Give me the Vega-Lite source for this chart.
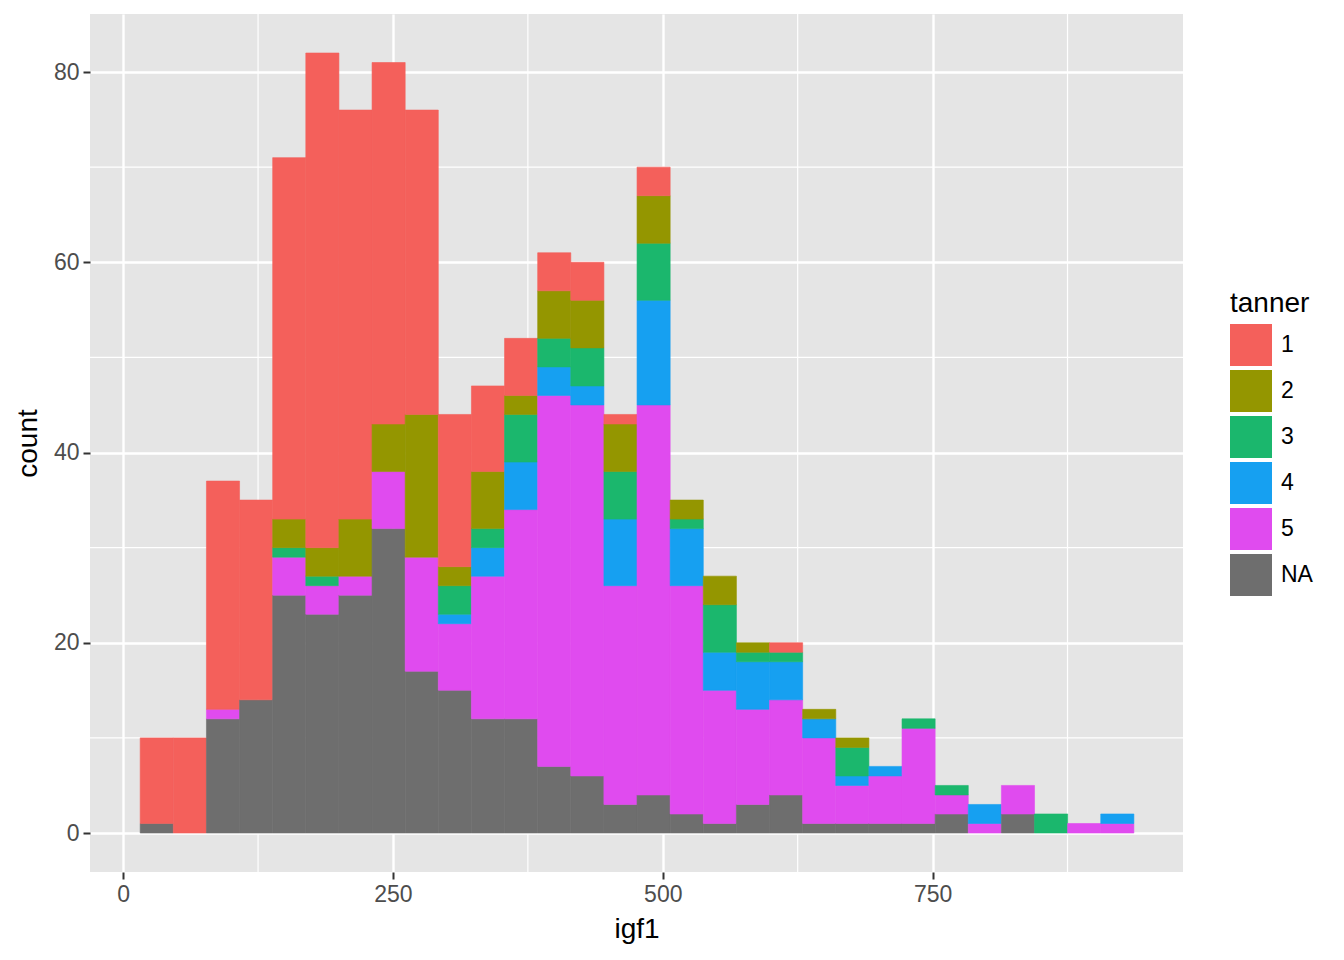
{
  "$schema": "https://vega.github.io/schema/vega-lite/v6.json",
  "width": 1093,
  "height": 858,
  "autosize": {"type": "none"},
  "padding": {"left": 90, "top": 14, "right": 161, "bottom": 88},
  "background": "white",
  "config": {
    "view": {"fill": "#E5E5E5", "stroke": null},
    "font": "Liberation Sans",
    "axis": {
      "domain": false, "grid": true, "gridColor": "white", "gridWidth": 2.4,
      "tickColor": "#333333", "tickWidth": 2, "tickSize": 7,
      "labelColor": "#4D4D4D", "labelFontSize": 23, "labelFont": "Liberation Sans",
      "titleFont": "Liberation Sans", "titleFontSize": 28, "titleColor": "#000000", "titleFontWeight": "normal"
    },
    "axisX": {"labelPadding": 4, "titlePadding": 9},
    "axisY": {"labelPadding": 4, "titlePadding": 11},
    "legend": {
      "titleFont": "Liberation Sans", "titleFontSize": 28, "titleFontWeight": "normal", "titleColor": "#000000",
      "labelFont": "Liberation Sans", "labelFontSize": 23, "labelColor": "#000000",
      "symbolType": "square", "symbolSize": 1764, "symbolStrokeWidth": 0, "symbolOpacity": 1,
      "rowPadding": 4, "labelOffset": 9, "titlePadding": 6
    }
  },
  "layer": [
    {
      "data": {"values": [{"v": 125}, {"v": 375}, {"v": 625}, {"v": 875}]},
      "mark": {"type": "rule", "color": "white", "strokeWidth": 1.2},
      "encoding": {
        "x": {"field": "v", "type": "quantitative", "title": "igf1",
              "scale": {"domain": [-30.7, 982], "nice": false, "zero": false},
              "axis": {"values": [0, 250, 500, 750]}}
      }
    },
    {
      "data": {"values": [{"v": 10}, {"v": 30}, {"v": 50}, {"v": 70}]},
      "mark": {"type": "rule", "color": "white", "strokeWidth": 1.2},
      "encoding": {
        "y": {"field": "v", "type": "quantitative", "title": "count",
              "scale": {"domain": [-4.1, 86.1], "nice": false, "zero": false},
              "axis": {"values": [0, 20, 40, 60, 80]}}
      }
    },
    {
      "data": {"values": [
        {"start": 15.34, "end": 46.03, "tanner": "NA", "count": 1},
        {"start": 15.34, "end": 46.03, "tanner": "1", "count": 9},
        {"start": 46.03, "end": 76.72, "tanner": "1", "count": 10},
        {"start": 76.72, "end": 107.41, "tanner": "NA", "count": 12},
        {"start": 76.72, "end": 107.41, "tanner": "5", "count": 1},
        {"start": 76.72, "end": 107.41, "tanner": "1", "count": 24},
        {"start": 107.41, "end": 138.10, "tanner": "NA", "count": 14},
        {"start": 107.41, "end": 138.10, "tanner": "1", "count": 21},
        {"start": 138.10, "end": 168.79, "tanner": "NA", "count": 25},
        {"start": 138.10, "end": 168.79, "tanner": "5", "count": 4},
        {"start": 138.10, "end": 168.79, "tanner": "3", "count": 1},
        {"start": 138.10, "end": 168.79, "tanner": "2", "count": 3},
        {"start": 138.10, "end": 168.79, "tanner": "1", "count": 38},
        {"start": 168.79, "end": 199.48, "tanner": "NA", "count": 23},
        {"start": 168.79, "end": 199.48, "tanner": "5", "count": 3},
        {"start": 168.79, "end": 199.48, "tanner": "3", "count": 1},
        {"start": 168.79, "end": 199.48, "tanner": "2", "count": 3},
        {"start": 168.79, "end": 199.48, "tanner": "1", "count": 52},
        {"start": 199.48, "end": 230.17, "tanner": "NA", "count": 25},
        {"start": 199.48, "end": 230.17, "tanner": "5", "count": 2},
        {"start": 199.48, "end": 230.17, "tanner": "2", "count": 6},
        {"start": 199.48, "end": 230.17, "tanner": "1", "count": 43},
        {"start": 230.17, "end": 260.86, "tanner": "NA", "count": 32},
        {"start": 230.17, "end": 260.86, "tanner": "5", "count": 6},
        {"start": 230.17, "end": 260.86, "tanner": "2", "count": 5},
        {"start": 230.17, "end": 260.86, "tanner": "1", "count": 38},
        {"start": 260.86, "end": 291.55, "tanner": "NA", "count": 17},
        {"start": 260.86, "end": 291.55, "tanner": "5", "count": 12},
        {"start": 260.86, "end": 291.55, "tanner": "2", "count": 15},
        {"start": 260.86, "end": 291.55, "tanner": "1", "count": 32},
        {"start": 291.55, "end": 322.24, "tanner": "NA", "count": 15},
        {"start": 291.55, "end": 322.24, "tanner": "5", "count": 7},
        {"start": 291.55, "end": 322.24, "tanner": "4", "count": 1},
        {"start": 291.55, "end": 322.24, "tanner": "3", "count": 3},
        {"start": 291.55, "end": 322.24, "tanner": "2", "count": 2},
        {"start": 291.55, "end": 322.24, "tanner": "1", "count": 16},
        {"start": 322.24, "end": 352.93, "tanner": "NA", "count": 12},
        {"start": 322.24, "end": 352.93, "tanner": "5", "count": 15},
        {"start": 322.24, "end": 352.93, "tanner": "4", "count": 3},
        {"start": 322.24, "end": 352.93, "tanner": "3", "count": 2},
        {"start": 322.24, "end": 352.93, "tanner": "2", "count": 6},
        {"start": 322.24, "end": 352.93, "tanner": "1", "count": 9},
        {"start": 352.93, "end": 383.62, "tanner": "NA", "count": 12},
        {"start": 352.93, "end": 383.62, "tanner": "5", "count": 22},
        {"start": 352.93, "end": 383.62, "tanner": "4", "count": 5},
        {"start": 352.93, "end": 383.62, "tanner": "3", "count": 5},
        {"start": 352.93, "end": 383.62, "tanner": "2", "count": 2},
        {"start": 352.93, "end": 383.62, "tanner": "1", "count": 6},
        {"start": 383.62, "end": 414.31, "tanner": "NA", "count": 7},
        {"start": 383.62, "end": 414.31, "tanner": "5", "count": 39},
        {"start": 383.62, "end": 414.31, "tanner": "4", "count": 3},
        {"start": 383.62, "end": 414.31, "tanner": "3", "count": 3},
        {"start": 383.62, "end": 414.31, "tanner": "2", "count": 5},
        {"start": 383.62, "end": 414.31, "tanner": "1", "count": 4},
        {"start": 414.31, "end": 445.00, "tanner": "NA", "count": 6},
        {"start": 414.31, "end": 445.00, "tanner": "5", "count": 39},
        {"start": 414.31, "end": 445.00, "tanner": "4", "count": 2},
        {"start": 414.31, "end": 445.00, "tanner": "3", "count": 4},
        {"start": 414.31, "end": 445.00, "tanner": "2", "count": 5},
        {"start": 414.31, "end": 445.00, "tanner": "1", "count": 4},
        {"start": 445.00, "end": 475.69, "tanner": "NA", "count": 3},
        {"start": 445.00, "end": 475.69, "tanner": "5", "count": 23},
        {"start": 445.00, "end": 475.69, "tanner": "4", "count": 7},
        {"start": 445.00, "end": 475.69, "tanner": "3", "count": 5},
        {"start": 445.00, "end": 475.69, "tanner": "2", "count": 5},
        {"start": 445.00, "end": 475.69, "tanner": "1", "count": 1},
        {"start": 475.69, "end": 506.38, "tanner": "NA", "count": 4},
        {"start": 475.69, "end": 506.38, "tanner": "5", "count": 41},
        {"start": 475.69, "end": 506.38, "tanner": "4", "count": 11},
        {"start": 475.69, "end": 506.38, "tanner": "3", "count": 6},
        {"start": 475.69, "end": 506.38, "tanner": "2", "count": 5},
        {"start": 475.69, "end": 506.38, "tanner": "1", "count": 3},
        {"start": 506.38, "end": 537.07, "tanner": "NA", "count": 2},
        {"start": 506.38, "end": 537.07, "tanner": "5", "count": 24},
        {"start": 506.38, "end": 537.07, "tanner": "4", "count": 6},
        {"start": 506.38, "end": 537.07, "tanner": "3", "count": 1},
        {"start": 506.38, "end": 537.07, "tanner": "2", "count": 2},
        {"start": 537.07, "end": 567.76, "tanner": "NA", "count": 1},
        {"start": 537.07, "end": 567.76, "tanner": "5", "count": 14},
        {"start": 537.07, "end": 567.76, "tanner": "4", "count": 4},
        {"start": 537.07, "end": 567.76, "tanner": "3", "count": 5},
        {"start": 537.07, "end": 567.76, "tanner": "2", "count": 3},
        {"start": 567.76, "end": 598.45, "tanner": "NA", "count": 3},
        {"start": 567.76, "end": 598.45, "tanner": "5", "count": 10},
        {"start": 567.76, "end": 598.45, "tanner": "4", "count": 5},
        {"start": 567.76, "end": 598.45, "tanner": "3", "count": 1},
        {"start": 567.76, "end": 598.45, "tanner": "2", "count": 1},
        {"start": 598.45, "end": 629.14, "tanner": "NA", "count": 4},
        {"start": 598.45, "end": 629.14, "tanner": "5", "count": 10},
        {"start": 598.45, "end": 629.14, "tanner": "4", "count": 4},
        {"start": 598.45, "end": 629.14, "tanner": "3", "count": 1},
        {"start": 598.45, "end": 629.14, "tanner": "1", "count": 1},
        {"start": 629.14, "end": 659.83, "tanner": "NA", "count": 1},
        {"start": 629.14, "end": 659.83, "tanner": "5", "count": 9},
        {"start": 629.14, "end": 659.83, "tanner": "4", "count": 2},
        {"start": 629.14, "end": 659.83, "tanner": "2", "count": 1},
        {"start": 659.83, "end": 690.52, "tanner": "NA", "count": 1},
        {"start": 659.83, "end": 690.52, "tanner": "5", "count": 4},
        {"start": 659.83, "end": 690.52, "tanner": "4", "count": 1},
        {"start": 659.83, "end": 690.52, "tanner": "3", "count": 3},
        {"start": 659.83, "end": 690.52, "tanner": "2", "count": 1},
        {"start": 690.52, "end": 721.21, "tanner": "NA", "count": 1},
        {"start": 690.52, "end": 721.21, "tanner": "5", "count": 5},
        {"start": 690.52, "end": 721.21, "tanner": "4", "count": 1},
        {"start": 721.21, "end": 751.90, "tanner": "NA", "count": 1},
        {"start": 721.21, "end": 751.90, "tanner": "5", "count": 10},
        {"start": 721.21, "end": 751.90, "tanner": "3", "count": 1},
        {"start": 751.90, "end": 782.59, "tanner": "NA", "count": 2},
        {"start": 751.90, "end": 782.59, "tanner": "5", "count": 2},
        {"start": 751.90, "end": 782.59, "tanner": "3", "count": 1},
        {"start": 782.59, "end": 813.28, "tanner": "5", "count": 1},
        {"start": 782.59, "end": 813.28, "tanner": "4", "count": 2},
        {"start": 813.28, "end": 843.97, "tanner": "NA", "count": 2},
        {"start": 813.28, "end": 843.97, "tanner": "5", "count": 3},
        {"start": 843.97, "end": 874.66, "tanner": "3", "count": 2},
        {"start": 874.66, "end": 905.34, "tanner": "5", "count": 1},
        {"start": 905.34, "end": 936.03, "tanner": "5", "count": 1},
        {"start": 905.34, "end": 936.03, "tanner": "4", "count": 1}
      ]},
      "mark": {"type": "bar", "binSpacing": 0, "strokeWidth": 0.6, "strokeOpacity": 1},
      "encoding": {
        "x": {"field": "start", "bin": "binned", "type": "quantitative", "title": "igf1",
              "scale": {"domain": [-30.7, 982], "nice": false, "zero": false},
              "axis": {"values": [0, 250, 500, 750]}},
        "x2": {"field": "end"},
        "y": {"field": "count", "type": "quantitative", "stack": "zero", "title": "count",
              "scale": {"domain": [-4.1, 86.1], "nice": false, "zero": false},
              "axis": {"values": [0, 20, 40, 60, 80]}},
        "color": {"field": "tanner", "type": "nominal", "title": "tanner",
                  "scale": {"domain": ["1", "2", "3", "4", "5", "NA"],
                            "range": ["#F4605B", "#949600", "#1BB76D", "#16A0F1", "#E04BEF", "#6E6E6E"]},
                  "legend": {"orient": "none", "legendX": 1140, "legendY": 276}},
        "stroke": {"field": "tanner", "type": "nominal", "legend": null,
                   "scale": {"domain": ["1", "2", "3", "4", "5", "NA"],
                             "range": ["#F4605B", "#949600", "#1BB76D", "#16A0F1", "#E04BEF", "#6E6E6E"]}},
        "order": {"field": "tanner", "sort": "descending"}
      }
    }
  ]
}
